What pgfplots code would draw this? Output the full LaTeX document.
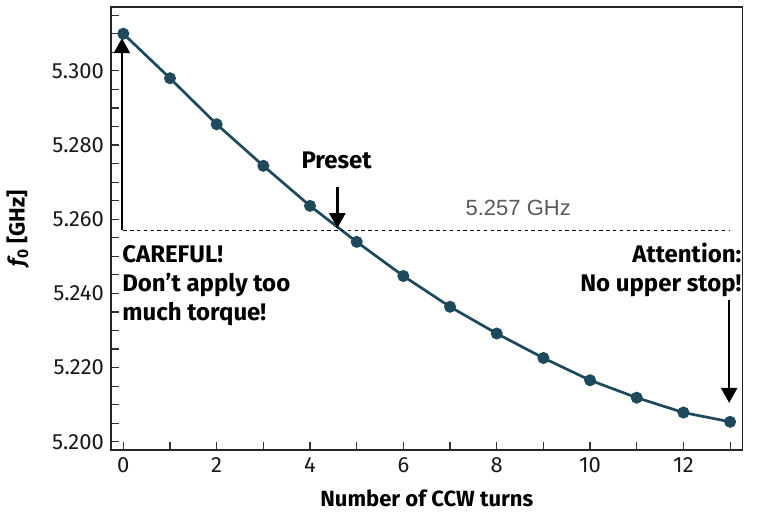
\documentclass[border=0pt]{standalone}
\usepackage{fontspec}
\setmainfont{Fira Sans}
\newfontfamily\arialfont{Liberation Sans}
\usepackage{pgfplots}
\pgfplotsset{compat=1.18}
\usetikzlibrary{arrows.meta}
\definecolor{tealc}{RGB}{30,73,90}
\begin{document}
\begin{tikzpicture}
\useasboundingbox (-55.5pt,-32.5pt) rectangle (323.5pt,225pt);
\begin{axis}[
  at={(0,0)}, anchor=south west,
  scale only axis, width=315.85pt, height=221.5pt,
  xmin=-0.264, xmax=13.27, ymin=5.1978, ymax=5.3172,
  tick pos=left, tick align=inside,
  major tick length=4pt, minor tick length=4pt,
  axis line style={black!85, line width=0.7pt},
  every tick/.style={black!80, line width=0.6pt},
  xtick={0,2,...,12}, minor xtick={1,3,...,13},
  ytick={5.2,5.22,5.24,5.26,5.28,5.3},
  minor ytick={5.205,5.21,5.215,5.225,5.23,5.235,5.245,5.25,5.255,5.265,5.27,5.275,5.285,5.29,5.295,5.305,5.31,5.315},
  scaled y ticks=false,
  yticklabel style={/pgf/number format/.cd, fixed, fixed zerofill, precision=3},
  /pgf/number format/assume math mode=true,
  tick label style={font=\fontsize{11}{13}\selectfont, black!90},
  xlabel={Number of CCW turns},
  ylabel={{\itshape f}\textsubscript{0} [GHz]},
  label style={font=\bfseries\fontsize{11}{13}\selectfont},
  ylabel style={at={(axis description cs:-0.147,0.5)}, anchor=center},
  xlabel style={at={(axis description cs:0.5,-0.108)}, anchor=center},
  clip=false,
]
\addplot[tealc, line width=1.35pt, mark=*, mark size=2.3pt, mark options={fill=tealc, draw=tealc}]
coordinates {(0,5.310)(1,5.298)(2,5.2856)(3,5.2744)(4,5.2636)(5,5.2539)(6,5.2447)(7,5.2364)(8,5.2292)(9,5.2226)(10,5.2166)(11,5.2119)(12,5.2079)(13,5.2054)};
\draw[black, line width=0.6pt, dash pattern=on 1.7pt off 1.7pt] (axis cs:0,5.257) -- (axis cs:13,5.257);
\draw[-{Triangle[length=7.5pt,width=8pt]}, line width=1.2pt] (axis cs:-0.03,5.257) -- (axis cs:-0.03,5.3088);
\draw[-{Triangle[length=7.5pt,width=8pt]}, line width=1.2pt] (axis cs:4.585,5.2687) -- (axis cs:4.585,5.2576);
\draw[-{Triangle[length=7.5pt,width=8pt]}, line width=1.2pt] (axis cs:12.98,5.2382) -- (axis cs:12.98,5.2105);
\node[anchor=base, font=\bfseries\fontsize{12}{14}\selectfont] at (axis cs:4.57,5.2738) {Preset};
\node[anchor=north west, inner sep=0pt, align=left, font=\bfseries\fontsize{12}{14.5}\selectfont] at (axis cs:-0.03,5.2530) {CAREFUL!\\Don’t apply too\\much torque!};
\node[anchor=north east, inner sep=0pt, align=right, font=\bfseries\fontsize{12}{14.5}\selectfont] at (axis cs:13.25,5.2538) {Attention:\\No upper stop!};
\node[anchor=base, font=\arialfont\fontsize{11}{13}\selectfont, text=black!65] at (axis cs:8.46,5.2611) {5.257 GHz};
\end{axis}
\end{tikzpicture}
\end{document}
